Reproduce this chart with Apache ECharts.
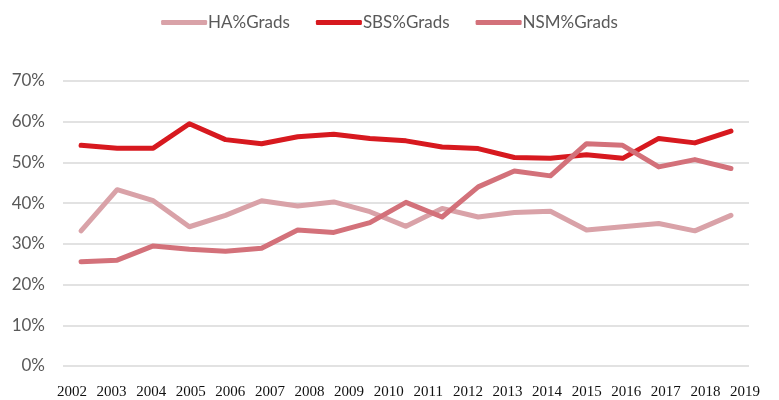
<!DOCTYPE html>
<html><head><meta charset="utf-8">
<script src="https://cdn.jsdelivr.net/npm/echarts@6/dist/echarts.min.js"></script>
<style>html,body{margin:0;padding:0;background:#fff}#c{width:779px;height:400px}</style>
</head><body><div id="c"></div>
<script>
// Tick labels shown under the chart
const tickLabels = ['2002','2003','2004','2005','2006','2007','2008','2009','2010','2011','2012','2013','2014','2015','2016','2017','2018','2019'];
// Data points (19 per series, as drawn)
const pointCats = ['p1','p2','p3','p4','p5','p6','p7','p8','p9','p10','p11','p12','p13','p14','p15','p16','p17','p18','p19'];
const haGrads  = [33.2,43.3,40.6,34.2,37.0,40.6,39.3,40.3,37.9,34.3,38.7,36.6,37.7,38.0,33.4,34.2,35.0,33.2,37.0];
const sbsGrads = [54.2,53.5,53.5,59.5,55.6,54.6,56.3,56.9,55.9,55.3,53.8,53.4,51.2,51.0,51.9,51.0,55.9,54.8,57.7];
const nsmGrads = [25.6,26.0,29.5,28.7,28.2,28.9,33.4,32.8,35.2,40.2,36.6,44.0,47.9,46.7,54.6,54.2,48.9,50.7,48.5];
const yTicks = [0,10,20,30,40,50,60,70];

const chart = echarts.init(document.getElementById('c'), null, {renderer:'canvas'});
const mk = (name, data, color) => ({
  name, type:'line', data, xAxisIndex:0, yAxisIndex:0, symbol:'none', smooth:false,
  lineStyle:{color, width:5, cap:'round', join:'round'}, itemStyle:{color}
});
chart.setOption({
  animation:false,
  legend:{
    top:9, left:'center', itemWidth:46, itemHeight:5, itemGap:26, icon:'roundRect',
    textStyle:{fontFamily:'Lato', fontSize:17, color:'#595959', padding:[0,0,0,-4]},
    data:['HA%Grads','SBS%Grads','NSM%Grads']
  },
  grid:[
    {left:63, right:30, top:81, bottom:34},
    {left:72, right:34, top:81, bottom:34}
  ],
  xAxis:[
    {type:'category', gridIndex:0, data:pointCats, boundaryGap:true, show:false},
    {type:'category', gridIndex:1, data:tickLabels, boundaryGap:false,
     axisLine:{show:false}, axisTick:{show:false},
     axisLabel:{interval:0, margin:19, fontFamily:'Liberation Serif', fontSize:15, color:'#111'}}
  ],
  yAxis:[
    {type:'value', gridIndex:0, min:0, max:70, interval:10,
     axisLine:{show:false}, axisTick:{show:false},
     splitLine:{lineStyle:{color:'#D9D9D9', width:1.5}},
     axisLabel:{margin:18, fontFamily:'Lato', fontSize:17, color:'#595959', formatter:v=>v+'%'}},
    {type:'value', gridIndex:1, min:0, max:70, show:false, splitLine:{show:false}}
  ],
  series:[
    mk('HA%Grads', haGrads, '#D9A2A8'),
    mk('SBS%Grads', sbsGrads, '#D7191F'),
    mk('NSM%Grads', nsmGrads, '#D3717A')
  ]
});
</script></body></html>
